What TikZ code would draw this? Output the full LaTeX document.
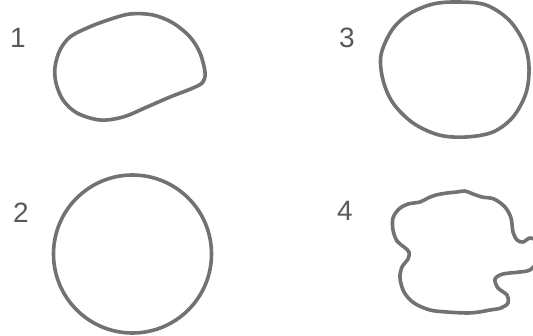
\documentclass[tikz,border=0pt]{standalone}
\usepackage{fontspec}
\setmainfont{Liberation Sans}
\definecolor{strokegrey}{HTML}{727272}
\definecolor{labelgrey}{HTML}{5A5A5A}
\tikzset{
  outline/.style={draw=strokegrey, line width=3.6pt, line join=round},
  lbl/.style={text=labelgrey, font=\fontsize{28}{28}\selectfont, inner sep=0pt, anchor=center}
}
\begin{document}
\begin{tikzpicture}[x=1pt,y=-1pt]
\fill[white] (0,0) rectangle (533,335);
\useasboundingbox (0,0) rectangle (533,335);
\clip (0,0) rectangle (533,335);
% labels
\node[lbl] (l1) at (18,38) {1};
\node[lbl] (l3) at (347,38) {3};
\node[lbl] (l2) at (21,213) {2};
\node[lbl] (l4) at (345,211) {4};
% shape 1
\draw[outline] plot[smooth cycle, tension=0.55] coordinates {
 (55,67) (60,50) (70,37) (87,28) (108,20) (130,14) (153,15) (173,23)
 (190,37) (200,53) (205,72) (203,82) (193,88) (170,97) (147,107)
 (123,117) (100,120) (77,113) (63,100) (56,83)};
% shape 3
\draw[outline] plot[smooth cycle, tension=0.55] coordinates {
 (381,55) (392,30) (409,14) (433,4) (459,2) (486,5) (509,20)
 (524,43) (529,67) (526,93) (513,117) (493,132) (466,137) (439,135)
 (413,123) (393,103) (383,80)};
% shape 2
\draw[outline] (132.5,254) circle[radius=79];
% shape 4
\draw[outline] plot[smooth cycle, tension=0.55] coordinates {
 (393,218) (399,209) (408,204) (420,202) (428,198) (436,195) (447,193)
 (457,192) (465,191) (473,194) (482,197) (494,199) (505,207) (511,218)
 (513,232) (517,240) (523,242) (530,238) (536,242) (536,262) (530,270)
 (520,272) (503,274) (495,279) (498,288) (507,295) (508,303) (501,308)
 (490,310) (479,312) (467,313) (447,312) (430,310) (414,303) (404,292)
 (400,278) (402,267) (408,259) (409,252) (404,247) (397,241) (393,230)};
\end{tikzpicture}
\end{document}
